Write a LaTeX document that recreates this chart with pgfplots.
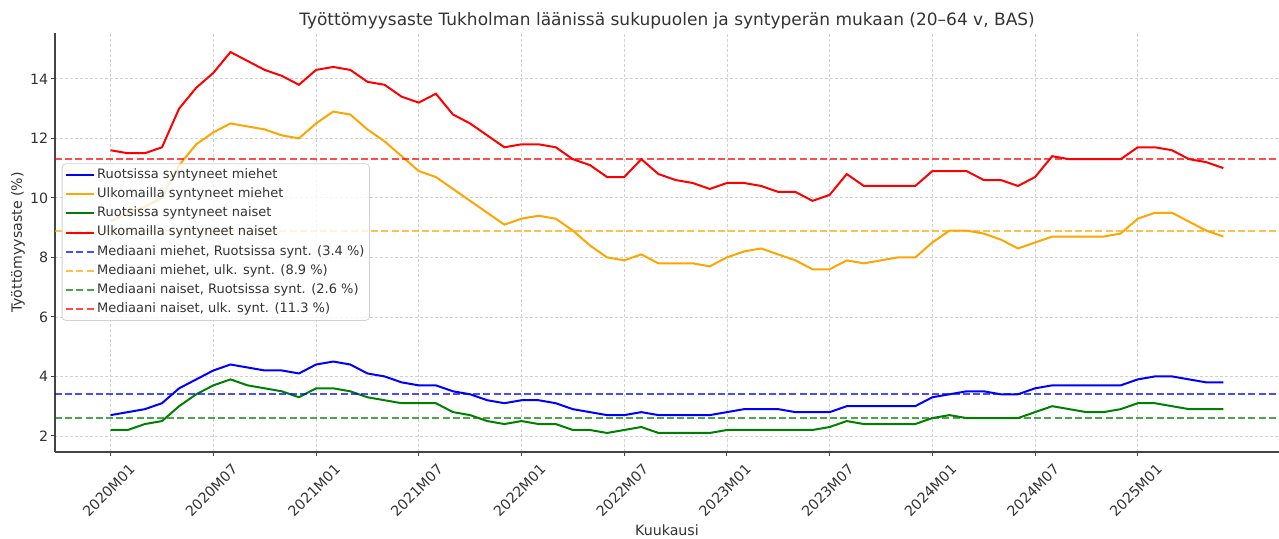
\documentclass[border=0pt]{standalone}
\usepackage{fontspec}
\setmainfont{DejaVu Sans}
\usepackage{pgfplots}
\usepackage{pgfplotstable}
\pgfplotsset{compat=1.18}

\definecolor{txt}{HTML}{333333}
\definecolor{spine}{HTML}{444444}
\definecolor{mpblue}{HTML}{0000FF}
\definecolor{mporange}{HTML}{FFA500}
\definecolor{mpgreen}{HTML}{008000}
\definecolor{mpred}{HTML}{FF0000}

% kuukausi-indeksi 0 = 2020M01
\pgfplotstableread{
m  rm   um    rn   un
0  2.7  9.2   2.2  11.6
1  2.8  9.5   2.2  11.5
2  2.9  9.7   2.4  11.5
3  3.1  10.0  2.5  11.7
4  3.6  11.1  3.0  13.0
5  3.9  11.8  3.4  13.7
6  4.2  12.2  3.7  14.2
7  4.4  12.5  3.9  14.9
8  4.3  12.4  3.7  14.6
9  4.2  12.3  3.6  14.3
10 4.2  12.1  3.5  14.1
11 4.1  12.0  3.3  13.8
12 4.4  12.5  3.6  14.3
13 4.5  12.9  3.6  14.4
14 4.4  12.8  3.5  14.3
15 4.1  12.3  3.3  13.9
16 4.0  11.9  3.2  13.8
17 3.8  11.4  3.1  13.4
18 3.7  10.9  3.1  13.2
19 3.7  10.7  3.1  13.5
20 3.5  10.3  2.8  12.8
21 3.4  9.9   2.7  12.5
22 3.2  9.5   2.5  12.1
23 3.1  9.1   2.4  11.7
24 3.2  9.3   2.5  11.8
25 3.2  9.4   2.4  11.8
26 3.1  9.3   2.4  11.7
27 2.9  8.9   2.2  11.3
28 2.8  8.4   2.2  11.1
29 2.7  8.0   2.1  10.7
30 2.7  7.9   2.2  10.7
31 2.8  8.1   2.3  11.3
32 2.7  7.8   2.1  10.8
33 2.7  7.8   2.1  10.6
34 2.7  7.8   2.1  10.5
35 2.7  7.7   2.1  10.3
36 2.8  8.0   2.2  10.5
37 2.9  8.2   2.2  10.5
38 2.9  8.3   2.2  10.4
39 2.9  8.1   2.2  10.2
40 2.8  7.9   2.2  10.2
41 2.8  7.6   2.2  9.9
42 2.8  7.6   2.3  10.1
43 3.0  7.9   2.5  10.8
44 3.0  7.8   2.4  10.4
45 3.0  7.9   2.4  10.4
46 3.0  8.0   2.4  10.4
47 3.0  8.0   2.4  10.4
48 3.3  8.5   2.6  10.9
49 3.4  8.9   2.7  10.9
50 3.5  8.9   2.6  10.9
51 3.5  8.8   2.6  10.6
52 3.4  8.6   2.6  10.6
53 3.4  8.3   2.6  10.4
54 3.6  8.5   2.8  10.7
55 3.7  8.7   3.0  11.4
56 3.7  8.7   2.9  11.3
57 3.7  8.7   2.8  11.3
58 3.7  8.7   2.8  11.3
59 3.7  8.8   2.9  11.3
60 3.9  9.3   3.1  11.7
61 4.0  9.5   3.1  11.7
62 4.0  9.5   3.0  11.6
63 3.9  9.2   2.9  11.3
64 3.8  8.9   2.9  11.2
65 3.8  8.7   2.9  11.0
}\datatable

\begin{document}
\begin{tikzpicture}
\begin{axis}[
    scale only axis,
    width=612pt, height=209.5pt,
    xmin=-3.25, xmax=68.25,
    ymin=1.46, ymax=15.54,
    axis x line*=bottom, axis y line*=left,
    axis line style={spine, line width=0.9pt, -},
    tick align=outside,
    major tick length=2.2pt,
    tick style={spine, line width=0.5pt},
    xtick={0,6,...,60},
    xticklabels={2020M01,2020M07,2021M01,2021M07,2022M01,2022M07,2023M01,2023M07,2024M01,2024M07,2025M01},
    ytick={2,4,...,14},
    /pgf/number format/assume math mode=true,
    ticklabel style={font=\fontsize{7.1}{8.5}\selectfont, text=txt},
    xticklabel style={yshift=-17pt, xshift=-1pt, rotate=45, anchor=center},
    yticklabel style={inner xsep=1pt},
    grid=major,
    major grid style={gray!35, line width=0.4pt, dash pattern=on 1.6pt off 0.9pt},
    xlabel={Kuukausi},
    ylabel={Työttömyysaste (\%)},
    label style={font=\fontsize{7.1}{8.5}\selectfont, text=txt},
    xlabel style={at={(axis description cs:0.5,0)}, anchor=center, yshift=-39pt},
    ylabel style={at={(axis description cs:0,0.5)}, anchor=center, rotate=0, yshift=18.5pt},
    title={Työttömyysaste Tukholman läänissä sukupuolen ja syntyperän mukaan (20–64 v, BAS)},
    title style={font=\fontsize{8.5}{10}\selectfont, text=txt, at={(axis description cs:0.5,1)}, anchor=center, yshift=0pt},
    legend style={at={(0.0055,0.689)}, anchor=north west,
        draw=gray!35, rounded corners=2pt, fill=white, fill opacity=0.8, text opacity=1,
        font=\fontsize{6.5}{7.7}\selectfont, text=txt,
        inner xsep=1.5pt, inner ysep=1.5pt, row sep=1.4pt,
        nodes={inner sep=1pt, text height=4.8pt, text depth=1.4pt}},
    legend cell align=left,
    legend image code/.code={\draw[#1] (0pt,0pt) -- (14pt,0pt);},
    every axis plot/.append style={line width=1pt},
    med/.style={line width=0.9pt, dash pattern=on 3.5pt off 1.6pt, opacity=0.7},
]
\addplot[mpblue] table[x=m, y=rm] {\datatable};
\addplot[mporange] table[x=m, y=um] {\datatable};
\addplot[mpgreen] table[x=m, y=rn] {\datatable};
\addplot[mpred] table[x=m, y=un] {\datatable};
\addplot[mpblue, med] coordinates {(-3.25,3.4) (68.25,3.4)};
\addplot[mporange, med] coordinates {(-3.25,8.9) (68.25,8.9)};
\addplot[mpgreen, med] coordinates {(-3.25,2.6) (68.25,2.6)};
\addplot[mpred, med] coordinates {(-3.25,11.3) (68.25,11.3)};
\legend{Ruotsissa syntyneet miehet, Ulkomailla syntyneet miehet, Ruotsissa syntyneet naiset, Ulkomailla syntyneet naiset,
  {Mediaani miehet, Ruotsissa synt. (3.4 \%)}, {Mediaani miehet, ulk. synt. (8.9 \%)},
  {Mediaani naiset, Ruotsissa synt. (2.6 \%)}, {Mediaani naiset, ulk. synt. (11.3 \%)}}
\end{axis}
\pgfresetboundingbox
\path[use as bounding box] (-27.5pt,-43pt) rectangle (612pt,226pt);
\end{tikzpicture}
\end{document}
